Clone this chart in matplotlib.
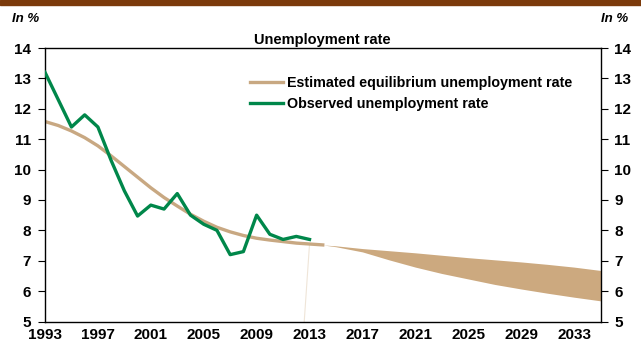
import matplotlib
matplotlib.use("Agg")
import matplotlib.pyplot as plt
from matplotlib.lines import Line2D

plt.rcParams['font.family'] = ['Liberation Sans', 'DejaVu Sans']

years_obs = list(range(1993, 2014))
observed = [13.2, 12.3, 11.4, 11.8, 11.4, 10.3, 9.3, 8.47, 8.83, 8.7, 9.21,
            8.5, 8.2, 8.0, 7.2, 7.3, 8.5, 7.87, 7.7, 7.8, 7.7]

years_eq = list(range(1993, 2015))
equilibrium = [11.58, 11.45, 11.27, 11.05, 10.78, 10.45, 10.1, 9.75, 9.4, 9.08,
               8.8, 8.53, 8.3, 8.1, 7.95, 7.83, 7.74, 7.68, 7.63, 7.58, 7.55, 7.52]

years_fan = [2014, 2015, 2017, 2019, 2021, 2023, 2025, 2027, 2029, 2031, 2033, 2035]
fan_upper = [7.52, 7.49, 7.40, 7.33, 7.26, 7.18, 7.10, 7.03, 6.96, 6.88, 6.79, 6.68]
fan_lower = [7.52, 7.46, 7.29, 7.03, 6.79, 6.58, 6.40, 6.22, 6.07, 5.93, 5.80, 5.68]

xticks = list(range(1993, 2035, 4))
yticks = list(range(5, 15))

tan = '#C8A882'
green = '#00874A'

fig = plt.figure(figsize=(6.41, 3.43), dpi=100)
ax = fig.add_axes([45/641, 1 - 321.5/343, (600.5 - 45)/641, (321.5 - 48)/343])

ax.fill_between(years_fan, fan_lower, fan_upper, color='#CCA97F', linewidth=0, zorder=1)
ax.plot([2013.0, 2012.6], [7.55, 5.0], color='#EFE5D8', linewidth=0.8, zorder=1)
ax.plot(years_eq, equilibrium, color=tan, linewidth=2.4, zorder=2)
ax.plot(years_obs, observed, color=green, linewidth=2.4, zorder=3)

ax.set_xlim(1993, 2035)
ax.set_ylim(5, 14)
ax.set_xticks(xticks)
ax.set_yticks(yticks)
ax.tick_params(axis='x', length=0, pad=5, labelsize=11)
ax.tick_params(axis='y', length=5, width=0.8, labelsize=11, left=True, right=True,
               labelleft=True, labelright=True, pad=5)
for lbl in ax.get_xticklabels() + ax.get_yticklabels():
    lbl.set_fontweight('bold')
for t in ax.yaxis.get_major_ticks():
    t.label2.set_fontweight('bold')
    t.label2.set_fontsize(11)
for s in ax.spines.values():
    s.set_linewidth(1.0)
    s.set_color('black')

ax.set_title('Unemployment rate', fontsize=10.5, fontweight='bold', pad=3)

handles = [Line2D([], [], color=tan, linewidth=2.4),
           Line2D([], [], color=green, linewidth=2.4)]
ax.legend(handles, ['Estimated equilibrium unemployment rate', 'Observed unemployment rate'],
          loc='upper left', bbox_to_anchor=(0.359, 0.92), frameon=False,
          prop={'weight': 'bold', 'size': 10.3}, handlelength=2.3, handletextpad=0.25,
          labelspacing=0.55, borderaxespad=0)

fig.patches.append(plt.Rectangle((0, 1 - 5/343), 1, 5/343, transform=fig.transFigure,
                                 color='#7B3A0B', zorder=0))
fig.text(12/641, 1 - 19/343, 'In %', fontsize=9.5, fontweight='bold', style='italic',
         va='center', ha='left')
fig.text(628/641, 1 - 19/343, 'In %', fontsize=9.5, fontweight='bold', style='italic',
         va='center', ha='right')

fig.savefig('out.png', dpi=100)
